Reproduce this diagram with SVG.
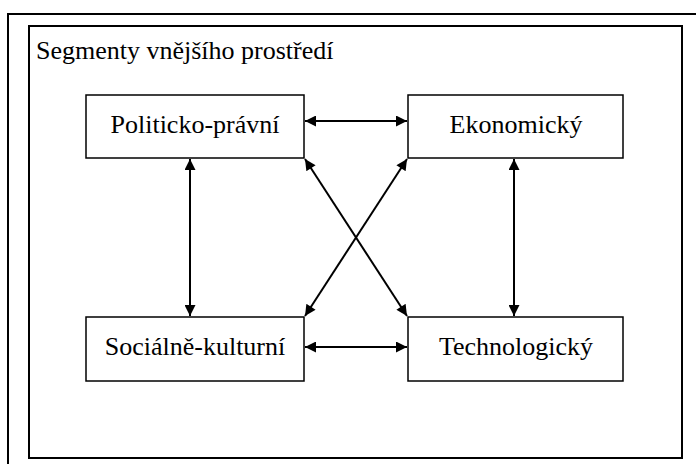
<svg xmlns="http://www.w3.org/2000/svg" width="696" height="464" viewBox="0 0 696 464">
<style>
.frame{fill:none;stroke:#000;stroke-width:2}
.box{fill:#fff;stroke:#000;stroke-width:1.5}
.lbl{font-family:"Liberation Serif","Times New Roman",serif;font-size:26px;fill:#000}
.c{text-anchor:middle}
.con{stroke:#000;stroke-width:2;fill:none;marker-start:url(#ah);marker-end:url(#ah)}
</style>
<defs>
<marker id="ah" viewBox="0 0 10 10" refX="10" refY="5" markerWidth="6" markerHeight="5.5" markerUnits="strokeWidth" orient="auto-start-reverse">
<path d="M0,0 L10,5 L0,10 z" fill="#000"/>
</marker>
</defs>
<rect width="696" height="464" fill="#fff"/>
<path class="frame" d="M8,470 V14 H700"/>
<g id="container">
<rect class="frame" x="29" y="26" width="653" height="432"/>
<text class="lbl" x="36" y="59">Segmenty vnějšího prostředí</text>
</g>
<g id="politicko">
<rect class="box" x="86" y="95" width="218" height="63"/>
<text class="lbl c" x="195" y="133">Politicko-právní</text>
</g>
<g id="ekonomicky">
<rect class="box" x="408" y="95" width="215" height="63"/>
<text class="lbl c" x="516" y="133">Ekonomický</text>
</g>
<g id="socialne">
<rect class="box" x="86" y="317" width="218" height="64"/>
<text class="lbl c" x="195" y="355">Sociálně-kulturní</text>
</g>
<g id="technologicky">
<rect class="box" x="408" y="317" width="215" height="64"/>
<text class="lbl c" x="516" y="355">Technologický</text>
</g>
<g id="connectors">
<line class="con" x1="305" y1="121" x2="407" y2="121"/>
<line class="con" x1="305" y1="347" x2="407" y2="347"/>
<line class="con" x1="190" y1="159" x2="190" y2="316"/>
<line class="con" x1="514" y1="159" x2="514" y2="316"/>
<line class="con" x1="305" y1="159" x2="407" y2="316"/>
<line class="con" x1="407" y1="159" x2="305" y2="316"/>
</g>
</svg>
